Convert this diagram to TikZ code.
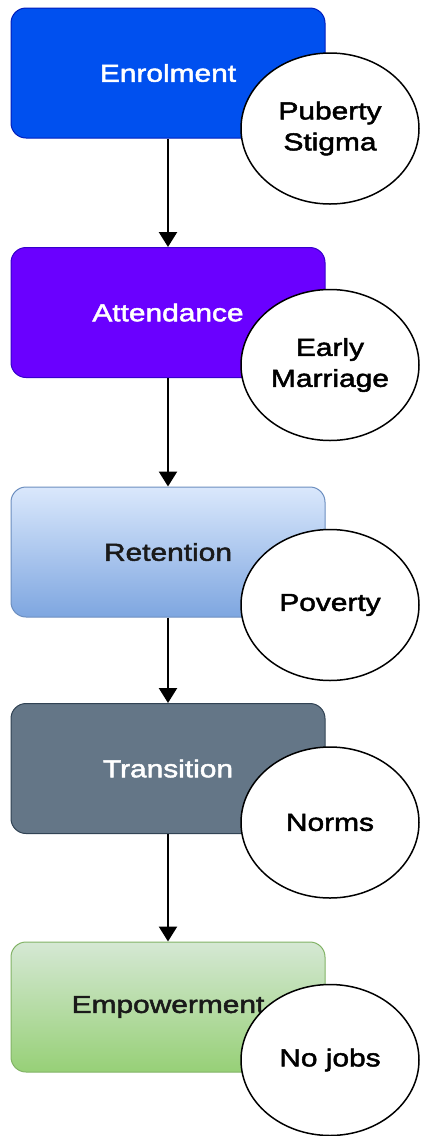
\documentclass[tikz,border=0pt]{standalone}
\usepackage{fontspec}
\setmainfont{Liberation Sans}[FakeStretch=1.22,FakeBold=2]
\usetikzlibrary{shapes.geometric,arrows.meta}
\definecolor{enrolfill}{HTML}{0050EF}
\definecolor{enroldraw}{HTML}{001DBC}
\definecolor{attendfill}{HTML}{6A00FF}
\definecolor{attenddraw}{HTML}{3700CC}
\definecolor{retaintop}{HTML}{DAE8FC}
\definecolor{retainbot}{HTML}{7EA6E0}
\definecolor{retaindraw}{HTML}{6C8EBF}
\definecolor{transfill}{HTML}{647687}
\definecolor{transdraw}{HTML}{314354}
\definecolor{empowtop}{HTML}{D5E8D4}
\definecolor{empowbot}{HTML}{97D077}
\definecolor{empowdraw}{HTML}{82B366}
\definecolor{darktext}{HTML}{1A1A1A}
\begin{document}
\begin{tikzpicture}[x=1pt,y=-1pt,
	stage/.style={rectangle,rounded corners=15pt,line width=1pt,minimum width=314pt,minimum height=130pt,inner sep=0pt,font=\fontsize{24.5}{31}\selectfont},
	barrier/.style={ellipse,draw,line width=1.5pt,fill=white,minimum width=178pt,minimum height=151pt,inner sep=0pt,align=center,font=\fontsize{24.5}{31}\selectfont},
	flow/.style={-{Triangle[width=18pt,length=15pt]},line width=2.5pt}]
	\useasboundingbox (0,0) rectangle (421,1136);
	\node (enrol) [stage,draw=enroldraw,fill=enrolfill,text=white] at (168,73) {Enrolment};
	\node (attend) [stage,draw=attenddraw,fill=attendfill,text=white] at (168,312.5) {Attendance};
	\node (retain) [stage,draw=retaindraw,top color=retaintop,bottom color=retainbot,text=darktext] at (168,552) {Retention};
	\node (trans) [stage,draw=transdraw,fill=transfill,text=white] at (168,768.5) {Transition};
	\node (empow) [stage,draw=empowdraw,top color=empowtop,bottom color=empowbot,text=darktext] at (168,1007) {Empowerment};
	\node (stigma) [barrier] at (330,128.5) {Puberty\\Stigma};
	\node (marriage) [barrier] at (330,365) {Early\\Marriage};
	\node (poverty) [barrier] at (330,605) {Poverty};
	\node (norms) [barrier] at (330,822.5) {Norms};
	\node (nojobs) [barrier] at (330,1060) {No jobs};
	\draw [flow] (enrol) -- (attend);
	\draw [flow] (attend) -- (retain);
	\draw [flow] (retain) -- (trans);
	\draw [flow] (trans) -- (empow);
\end{tikzpicture}
\end{document}
